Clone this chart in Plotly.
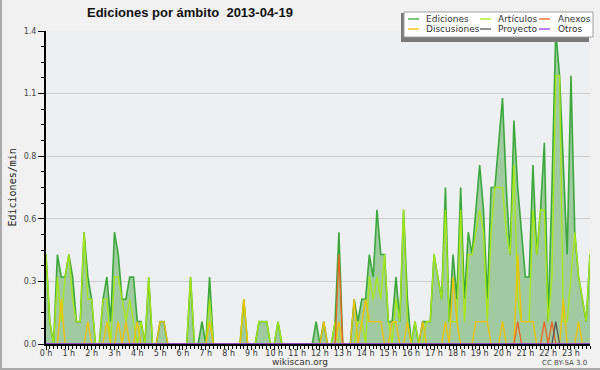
import plotly.graph_objects as go

# ---- data: edits per minute in 10-minute bins (00:00 .. 23:50) ----
EDICIONES = [
    0.4, 0.1, 0.0, 0.4, 0.3, 0.3, 0.4, 0.3, 0.1, 0.1,
    0.5, 0.3, 0.2, 0.0, 0.0, 0.2, 0.3, 0.1, 0.5, 0.4,
    0.2, 0.2, 0.3, 0.3, 0.1, 0.1, 0.0, 0.3, 0.0, 0.0,
    0.1, 0.1, 0.0, 0.0, 0.0, 0.0, 0.0, 0.0, 0.3, 0.0,
    0.0, 0.1, 0.0, 0.3, 0.0, 0.0, 0.0, 0.0, 0.0, 0.0,
    0.0, 0.0, 0.2, 0.0, 0.0, 0.0, 0.1, 0.1, 0.1, 0.0,
    0.0, 0.1, 0.0, 0.0, 0.0, 0.0, 0.0, 0.0, 0.0, 0.0,
    0.0, 0.1, 0.0, 0.1, 0.0, 0.0, 0.1, 0.5, 0.0, 0.0,
    0.0, 0.2, 0.1, 0.2, 0.2, 0.4, 0.3, 0.6, 0.4, 0.4,
    0.1, 0.1, 0.3, 0.1, 0.6, 0.2, 0.0, 0.1, 0.0, 0.1,
    0.1, 0.1, 0.4, 0.3, 0.2, 0.7, 0.1, 0.4, 0.2, 0.7,
    0.2, 0.5, 0.4, 0.6, 0.8, 0.6, 0.2, 0.7, 0.7, 0.9,
    1.1, 0.7, 0.4, 1.0, 0.7, 0.5, 0.3, 0.3, 0.8, 0.4,
    0.6, 0.9, 0.1, 0.7, 1.4, 1.2, 0.8, 0.4, 1.2, 0.5,
    0.3, 0.2, 0.1, 0.4,
]
ARTICULOS = [
    0.4, 0.1, 0.0, 0.3, 0.1, 0.3, 0.4, 0.2, 0.1, 0.1,
    0.5, 0.2, 0.2, 0.0, 0.0, 0.2, 0.2, 0.0, 0.3, 0.3,
    0.2, 0.1, 0.2, 0.1, 0.0, 0.1, 0.0, 0.3, 0.0, 0.0,
    0.0, 0.0, 0.0, 0.0, 0.0, 0.0, 0.0, 0.0, 0.3, 0.0,
    0.0, 0.0, 0.0, 0.2, 0.0, 0.0, 0.0, 0.0, 0.0, 0.0,
    0.0, 0.0, 0.2, 0.0, 0.0, 0.0, 0.1, 0.1, 0.1, 0.0,
    0.0, 0.1, 0.0, 0.0, 0.0, 0.0, 0.0, 0.0, 0.0, 0.0,
    0.0, 0.0, 0.0, 0.0, 0.0, 0.0, 0.1, 0.0, 0.0, 0.0,
    0.0, 0.0, 0.1, 0.1, 0.0, 0.3, 0.2, 0.3, 0.2, 0.4,
    0.1, 0.0, 0.2, 0.1, 0.6, 0.1, 0.0, 0.1, 0.0, 0.0,
    0.1, 0.1, 0.4, 0.3, 0.2, 0.6, 0.1, 0.1, 0.1, 0.6,
    0.1, 0.4, 0.4, 0.5, 0.6, 0.5, 0.1, 0.5, 0.7, 0.7,
    0.7, 0.5, 0.4, 0.8, 0.2, 0.1, 0.1, 0.1, 0.6, 0.4,
    0.6, 0.6, 0.1, 0.3, 1.2, 1.2, 0.1, 0.1, 0.3, 0.5,
    0.3, 0.2, 0.1, 0.4,
]
DISCUSIONES = [
    0.0, 0.0, 0.0, 0.0, 0.2, 0.0, 0.0, 0.0, 0.0, 0.0,
    0.0, 0.1, 0.0, 0.0, 0.0, 0.0, 0.1, 0.0, 0.0, 0.1,
    0.0, 0.1, 0.0, 0.0, 0.1, 0.0, 0.0, 0.0, 0.0, 0.0,
    0.1, 0.1, 0.0, 0.0, 0.0, 0.0, 0.0, 0.0, 0.0, 0.0,
    0.0, 0.0, 0.0, 0.1, 0.0, 0.0, 0.0, 0.0, 0.0, 0.0,
    0.0, 0.0, 0.2, 0.0, 0.0, 0.0, 0.0, 0.0, 0.0, 0.0,
    0.0, 0.0, 0.0, 0.0, 0.0, 0.0, 0.0, 0.0, 0.0, 0.0,
    0.0, 0.0, 0.0, 0.1, 0.0, 0.0, 0.0, 0.1, 0.0, 0.0,
    0.0, 0.2, 0.0, 0.1, 0.2, 0.1, 0.1, 0.1, 0.1, 0.0,
    0.0, 0.1, 0.1, 0.0, 0.0, 0.1, 0.0, 0.0, 0.0, 0.1,
    0.0, 0.0, 0.0, 0.0, 0.0, 0.1, 0.0, 0.3, 0.1, 0.0,
    0.0, 0.0, 0.0, 0.1, 0.1, 0.1, 0.1, 0.0, 0.0, 0.0,
    0.1, 0.0, 0.0, 0.0, 0.4, 0.1, 0.1, 0.1, 0.1, 0.0,
    0.0, 0.0, 0.0, 0.0, 0.0, 0.0, 0.2, 0.0, 0.0, 0.0,
    0.1, 0.0, 0.0, 0.0,
]
ANEXOS = [0.0] * 77 + [0.4] + [0.0] * 46 + [0.1] + [0.0] * 6 + [0.1, 0.0, 0.1] + [0.0] * 10
PROYECTO = [0.0] * 134 + [0.1] + [0.0] * 9
OTROS = [0.0] * 144

HOURS = [i / 6 for i in range(144)]          # bin start, in hours
Y_TICKS = [0.0, 0.28, 0.56, 0.84, 1.12, 1.4]
Y_TICK_LABELS = ["0.0", "0.3", "0.6", "0.8", "1.1", "1.4"]
SERIES_NAMES = ["Ediciones", "Artículos", "Anexos", "Discusiones", "Proyecto", "Otros"]

COLORS = {
    "Ediciones": "#3aa83a",
    "Artículos": "#a8e812",
    "Anexos": "#ee6420",
    "Discusiones": "#f2c000",
    "Proyecto": "#555555",
    "Otros": "#9a3cf0",
}

# plot area in pixels: x 46..590, y 31..344
L, R, T, B = 46, 590, 31, 344
W, H = R - L, B - T


def px(x):
    return (x - L) / W


def py(y):
    return (B - y) / H


fig = go.Figure()
fig.add_trace(go.Scatter(
    x=HOURS, y=EDICIONES, name="Ediciones", mode="lines",
    line=dict(color=COLORS["Ediciones"], width=1.6),
    fill="tozeroy", fillcolor="#a0cba0",
))
for name, vals in [("Artículos", ARTICULOS), ("Discusiones", DISCUSIONES),
                   ("Anexos", ANEXOS), ("Proyecto", PROYECTO), ("Otros", OTROS)]:
    fig.add_trace(go.Scatter(
        x=HOURS, y=vals, name=name, mode="lines",
        line=dict(color=COLORS[name], width=1.3),
    ))

shapes = []
annotations = []

# legend box with shadow
shapes.append(dict(type="rect", xref="paper", yref="paper", layer="above",
                   x0=px(401), x1=px(589), y0=py(42), y1=py(13),
                   fillcolor="#7a7a7a", line=dict(width=0)))
shapes.append(dict(type="rect", xref="paper", yref="paper", layer="above",
                   x0=px(404), x1=px(593), y0=py(37), y1=py(12),
                   fillcolor="#ffffff", line=dict(color="#a0a0a0", width=1)))
legend_cols = [(408, 424), (480, 496), (539, 556)]
legend_rows = [19, 29]
for k, name in enumerate(SERIES_NAMES):
    row, col = divmod(k, 3)
    sx, tx = legend_cols[col]
    yy = legend_rows[row]
    shapes.append(dict(type="line", xref="paper", yref="paper", layer="above",
                       x0=px(sx), x1=px(sx + 11), y0=py(yy), y1=py(yy),
                       line=dict(color=COLORS[name], width=1.3)))
    annotations.append(dict(text=name, xref="paper", yref="paper",
                            x=px(tx), y=py(yy), xanchor="left", yanchor="middle",
                            showarrow=False,
                            font=dict(family="DejaVu Sans", size=9, color="#333333")))

# figure border (left and bottom)
shapes.append(dict(type="line", xref="paper", yref="paper", layer="above",
                   x0=px(1), x1=px(1), y0=py(0), y1=py(370),
                   line=dict(color="#aaaaaa", width=2)))
shapes.append(dict(type="line", xref="paper", yref="paper", layer="above",
                   x0=px(0), x1=px(600), y0=py(369), y1=py(369),
                   line=dict(color="#aaaaaa", width=2)))

annotations += [
    dict(text="<b>Ediciones por ámbito  2013-04-19</b>", xref="paper", yref="paper",
         x=px(85), y=py(13), xanchor="left", yanchor="middle", showarrow=False,
         font=dict(family="Liberation Sans", size=13, color="#111111")),
    dict(text="Ediciones/min", xref="paper", yref="paper", textangle=-90,
         x=px(12), y=0.5, xanchor="center", yanchor="middle", showarrow=False,
         font=dict(family="DejaVu Sans Mono", size=10, color="#222222")),
    dict(text="wikiscan.org", xref="paper", yref="paper",
         x=px(300), y=py(362), xanchor="center", yanchor="middle", showarrow=False,
         font=dict(family="DejaVu Sans", size=9, color="#333333")),
    dict(text="CC BY-SA 3.0", xref="paper", yref="paper",
         x=px(589), y=py(363), xanchor="right", yanchor="middle", showarrow=False,
         font=dict(family="DejaVu Sans", size=7, color="#444444")),
]

fig.update_layout(
    width=600, height=370,
    margin=dict(l=L, r=600 - R, t=T, b=370 - B, pad=0),
    paper_bgcolor="#f1f1f1", plot_bgcolor="#eeeff1",
    showlegend=False,
    shapes=shapes, annotations=annotations,
    xaxis=dict(
        range=[0, HOURS[-1]], tickmode="linear", tick0=0, dtick=1,
        ticksuffix=" h", showgrid=False, zeroline=False,
        showline=True, linecolor="#000000", linewidth=2,
        ticks="outside", ticklen=4, tickcolor="#000000", tickwidth=1,
        ticklabelstandoff=-4,
        minor=dict(tickmode="linear", tick0=0, dtick=1 / 6, ticks="outside",
                   ticklen=3, tickcolor="#000000", showgrid=False),
        tickfont=dict(family="DejaVu Sans", size=8, color="#333333"),
        fixedrange=True,
    ),
    yaxis=dict(
        range=[0, 1.4], tickmode="array", tickvals=Y_TICKS, ticktext=Y_TICK_LABELS,
        showgrid=True, gridcolor="#cccccc", gridwidth=1, zeroline=False,
        showline=True, linecolor="#000000", linewidth=2,
        ticks="outside", ticklen=6, tickcolor="#000000", tickwidth=1,
        minor=dict(tickmode="linear", tick0=0, dtick=0.07, ticks="outside",
                   ticklen=3, tickcolor="#000000", showgrid=False),
        tickfont=dict(family="DejaVu Sans", size=8, color="#444444"),
        fixedrange=True,
    ),
)

fig.write_html(
    "out.html",
    config={"displayModeBar": False},
    post_script="document.body.style.margin='0';document.body.style.padding='0';",
)
